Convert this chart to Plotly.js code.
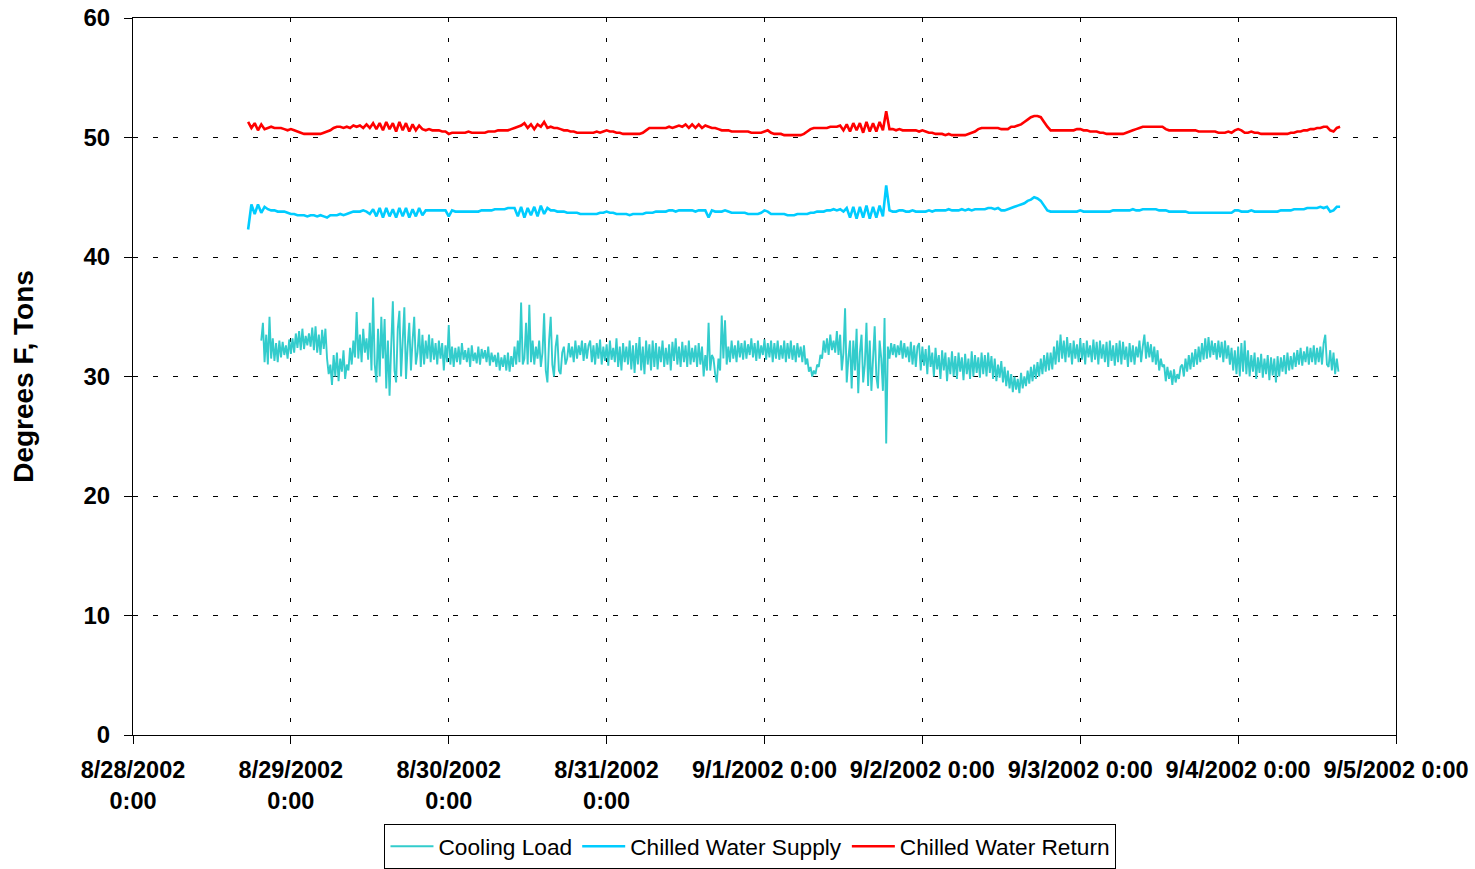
<!DOCTYPE html>
<html>
<head>
<meta charset="utf-8">
<script src="https://cdn.plot.ly/plotly-3.0.1.min.js"></script>
<style>
  html, body { margin: 0; padding: 0; background: #fff; }
  #chart { width: 1475px; height: 869px; }
</style>
</head>
<body>
<div id="chart"></div>
<script>
// ---- Data ----
// Time origin of the axis and sampling of the logged series (hours after origin)
const originDate = "2002-08-28";
const tempStartHour = 17.5;   // Chilled water supply/return: first logged sample
const tempStepHours = 0.5;    // half-hourly samples
const loadStartHour = 19.5;   // Cooling load: first logged sample
const loadStepHours = 0.25;   // quarter-hourly samples

const chilledWaterReturn = [
  51.3, 50.8, 51.2, 50.6, 51.1, 50.7, 50.8, 50.9, 50.8, 50.8, 50.8, 50.7, 50.6, 50.7, 50.6, 50.5, 50.4, 50.3, 50.3, 50.3,
  50.3, 50.3, 50.3, 50.4, 50.5, 50.6, 50.8, 50.9, 50.9, 50.8, 50.9, 50.8, 51.0, 50.9, 51.0, 50.8, 51.1, 50.8, 51.2, 50.7,
  51.2, 50.6, 51.3, 50.7, 51.2, 50.5, 51.3, 50.6, 51.2, 50.5, 51.1, 50.6, 51.0, 50.7, 50.6, 50.7, 50.6, 50.6, 50.6, 50.5,
  50.5, 50.3, 50.4, 50.4, 50.4, 50.4, 50.4, 50.5, 50.4, 50.4, 50.4, 50.4, 50.4, 50.5, 50.5, 50.5, 50.6, 50.6, 50.6, 50.6,
  50.7, 50.8, 50.9, 51.0, 51.2, 50.8, 51.1, 50.7, 51.1, 50.9, 51.3, 50.8, 50.9, 50.8, 50.8, 50.7, 50.6, 50.6, 50.5, 50.5,
  50.4, 50.4, 50.4, 50.4, 50.4, 50.4, 50.5, 50.4, 50.5, 50.6, 50.5, 50.5, 50.4, 50.4, 50.3, 50.3, 50.3, 50.3, 50.3, 50.3,
  50.4, 50.6, 50.8, 50.8, 50.8, 50.8, 50.8, 50.8, 50.9, 50.8, 50.9, 51.0, 50.9, 51.1, 50.8, 51.1, 50.8, 51.1, 50.8, 51.0,
  50.9, 50.8, 50.8, 50.7, 50.6, 50.6, 50.6, 50.5, 50.5, 50.5, 50.5, 50.5, 50.5, 50.4, 50.4, 50.4, 50.4, 50.5, 50.6, 50.4,
  50.3, 50.3, 50.3, 50.2, 50.2, 50.2, 50.2, 50.2, 50.2, 50.3, 50.5, 50.7, 50.8, 50.8, 50.8, 50.8, 50.8, 50.9, 50.9, 50.9,
  51.0, 50.6, 51.1, 50.5, 51.2, 50.6, 51.2, 50.4, 51.3, 50.5, 51.2, 50.5, 51.3, 50.6, 52.2, 50.7, 50.7, 50.6, 50.7, 50.6,
  50.6, 50.6, 50.6, 50.6, 50.5, 50.6, 50.5, 50.4, 50.4, 50.3, 50.3, 50.3, 50.2, 50.3, 50.2, 50.2, 50.2, 50.2, 50.2, 50.3,
  50.4, 50.5, 50.7, 50.8, 50.8, 50.8, 50.8, 50.8, 50.8, 50.7, 50.7, 50.7, 50.9, 50.9, 51.0, 51.1, 51.3, 51.5, 51.7, 51.8,
  51.8, 51.7, 51.3, 50.9, 50.6, 50.6, 50.6, 50.6, 50.6, 50.6, 50.6, 50.6, 50.7, 50.7, 50.6, 50.6, 50.5, 50.5, 50.5, 50.4,
  50.4, 50.3, 50.3, 50.3, 50.3, 50.3, 50.3, 50.4, 50.5, 50.6, 50.7, 50.8, 50.9, 50.9, 50.9, 50.9, 50.9, 50.9, 50.9, 50.7,
  50.6, 50.6, 50.6, 50.6, 50.6, 50.6, 50.6, 50.6, 50.6, 50.5, 50.5, 50.5, 50.5, 50.5, 50.5, 50.4, 50.4, 50.4, 50.5, 50.4,
  50.6, 50.7, 50.6, 50.4, 50.4, 50.5, 50.4, 50.4, 50.3, 50.3, 50.3, 50.3, 50.3, 50.3, 50.3, 50.3, 50.3, 50.4, 50.4, 50.5,
  50.5, 50.6, 50.6, 50.7, 50.7, 50.8, 50.8, 50.9, 50.9, 50.6, 50.5, 50.8, 50.9
];

const chilledWaterSupply = [
  42.3, 44.4, 43.6, 44.4, 43.7, 44.2, 44.0, 43.9, 43.9, 43.8, 43.8, 43.8, 43.7, 43.6, 43.6, 43.5, 43.5, 43.5, 43.4, 43.5,
  43.5, 43.4, 43.5, 43.4, 43.3, 43.5, 43.5, 43.5, 43.6, 43.5, 43.6, 43.7, 43.8, 43.8, 43.8, 43.9, 43.8, 43.6, 44.0, 43.4,
  44.1, 43.3, 44.1, 43.4, 44.0, 43.3, 44.1, 43.4, 44.1, 43.3, 44.0, 43.4, 44.1, 43.5, 43.9, 43.9, 43.9, 43.9, 43.9, 43.9,
  43.9, 43.4, 43.9, 43.8, 43.8, 43.8, 43.8, 43.8, 43.8, 43.8, 43.8, 43.9, 43.9, 43.9, 43.9, 44.0, 44.0, 44.0, 44.0, 44.1,
  44.1, 44.1, 43.4, 44.2, 43.3, 44.1, 43.5, 44.2, 43.4, 44.3, 43.6, 44.1, 43.9, 43.9, 43.8, 43.8, 43.8, 43.7, 43.7, 43.7,
  43.7, 43.6, 43.6, 43.6, 43.6, 43.6, 43.6, 43.7, 43.7, 43.8, 43.7, 43.7, 43.6, 43.6, 43.6, 43.6, 43.5, 43.6, 43.6, 43.6,
  43.6, 43.7, 43.7, 43.7, 43.8, 43.8, 43.8, 43.8, 43.9, 43.9, 43.8, 43.9, 43.9, 43.9, 43.9, 43.9, 43.8, 43.9, 43.9, 43.9,
  43.3, 43.9, 43.8, 43.8, 43.8, 43.9, 43.8, 43.7, 43.7, 43.7, 43.7, 43.7, 43.6, 43.6, 43.6, 43.6, 43.7, 43.9, 43.8, 43.6,
  43.6, 43.6, 43.6, 43.6, 43.5, 43.5, 43.5, 43.6, 43.6, 43.6, 43.6, 43.7, 43.7, 43.8, 43.8, 43.8, 43.9, 43.9, 44.0, 43.9,
  44.0, 43.8, 44.1, 43.3, 44.2, 43.2, 44.2, 43.3, 44.3, 43.2, 44.2, 43.3, 44.3, 43.4, 46.0, 43.9, 43.8, 43.8, 43.9, 43.9,
  43.8, 43.8, 43.9, 43.8, 43.8, 43.8, 43.8, 43.9, 43.8, 43.9, 43.9, 43.9, 43.9, 44.0, 43.9, 43.9, 43.9, 44.0, 43.9, 44.0,
  43.9, 44.0, 44.0, 44.0, 44.0, 44.1, 44.1, 44.0, 44.1, 43.9, 43.9, 44.0, 44.1, 44.2, 44.3, 44.4, 44.5, 44.7, 44.8, 45.0,
  44.9, 44.7, 44.3, 43.9, 43.8, 43.8, 43.8, 43.8, 43.8, 43.8, 43.8, 43.8, 43.8, 43.9, 43.8, 43.8, 43.8, 43.8, 43.8, 43.8,
  43.8, 43.8, 43.8, 43.9, 43.9, 43.9, 43.9, 43.9, 43.9, 44.0, 43.9, 43.9, 44.0, 44.0, 44.0, 44.0, 44.0, 43.9, 43.9, 43.9,
  43.8, 43.8, 43.8, 43.8, 43.8, 43.8, 43.7, 43.7, 43.7, 43.7, 43.7, 43.7, 43.7, 43.7, 43.7, 43.7, 43.7, 43.7, 43.7, 43.7,
  43.9, 43.9, 43.8, 43.8, 43.8, 43.9, 43.8, 43.8, 43.8, 43.8, 43.8, 43.8, 43.8, 43.8, 43.9, 43.9, 43.9, 43.9, 44.0, 44.0,
  44.0, 44.0, 44.1, 44.1, 44.1, 44.1, 44.2, 44.1, 44.2, 43.8, 43.9, 44.2, 44.2
];

const coolingLoad = [
  33.0, 34.5, 31.2, 33.5, 31.0, 35.0, 31.5, 33.2, 31.3, 32.8, 31.2, 33.0, 31.6, 32.9, 31.8, 32.6, 31.5, 33.1, 31.9, 33.2,
  32.0, 33.6, 32.4, 33.8, 32.2, 34.0, 32.3, 33.4, 32.6, 33.6, 32.5, 34.1, 32.2, 34.2, 32.0, 33.5, 31.8, 33.9, 32.3, 34.0,
  31.5, 30.2, 31.0, 29.3, 31.8, 30.0, 32.0, 29.6, 31.5, 30.4, 32.2, 29.8, 31.0, 30.5, 32.4, 31.0, 33.0, 31.6, 35.4, 31.5,
  33.5, 31.2, 34.0, 32.0, 33.2, 31.4, 34.5, 30.5, 36.6, 31.0, 29.5, 34.0, 30.0, 35.0, 31.5, 34.8, 29.0, 33.0, 28.4, 32.5,
  36.3, 30.5, 29.5, 34.0, 35.5, 30.0, 33.0, 35.8, 29.8, 32.5, 34.5, 30.5, 33.0, 35.0, 31.0, 32.0, 34.0, 30.8, 33.5, 31.0,
  33.0, 31.5, 33.5, 31.2, 33.2, 31.4, 32.8, 31.0, 33.0, 31.5, 32.8, 30.5, 32.6, 31.2, 34.3, 31.0, 32.5, 30.8, 32.4, 31.2,
  32.5, 31.0, 32.8, 31.4, 32.2, 31.2, 32.4, 30.8, 32.6, 31.3, 32.0, 31.1, 32.5, 31.0, 32.3, 31.5, 32.2, 31.2, 32.5, 30.9,
  32.0, 31.2, 31.8, 30.8, 32.0, 30.5, 31.6, 30.8, 31.8, 30.5, 32.0, 30.4, 31.7, 30.8, 32.5, 31.0, 33.0, 31.2, 36.2, 31.0,
  31.5, 34.5, 31.0, 36.0, 31.2, 33.0, 31.0, 32.5, 31.5, 33.0, 30.8, 32.0, 35.3, 30.5, 29.5, 33.0, 35.0, 31.0, 30.0, 32.5,
  33.5, 30.5, 30.2, 32.0, 32.5, 31.0, 31.5, 32.8, 31.6, 32.5, 31.2, 33.0, 31.5, 32.6, 31.8, 33.0, 31.3, 32.8, 31.5, 32.6,
  33.0, 31.2, 32.6, 31.0, 32.8, 31.5, 33.1, 31.0, 32.5, 31.3, 32.7, 30.9, 33.0, 31.4, 32.4, 31.2, 33.2, 30.8, 32.5, 30.5,
  32.8, 31.2, 32.5, 31.0, 33.0, 30.6, 32.6, 30.3, 32.8, 31.0, 33.3, 30.5, 32.5, 30.2, 33.0, 31.0, 32.7, 30.5, 33.0, 30.8,
  32.8, 30.6, 32.5, 31.2, 33.0, 30.8, 32.4, 31.0, 32.7, 30.5, 32.9, 31.3, 33.2, 31.0, 32.5, 30.8, 32.9, 31.2, 32.6, 30.8,
  33.0, 31.0, 32.4, 31.2, 32.6, 30.8, 32.8, 31.0, 32.5, 30.0, 31.8, 30.5, 34.5, 30.5, 31.8, 31.5, 30.2, 29.5, 31.5, 30.5,
  35.1, 31.5, 34.7, 31.0, 32.5, 31.2, 33.0, 31.5, 32.6, 31.2, 33.0, 31.6, 32.8, 31.4, 33.0, 31.5, 32.7, 31.8, 33.2, 31.6,
  32.8, 31.3, 33.0, 31.5, 32.6, 31.8, 33.1, 31.4, 32.8, 31.6, 33.0, 31.2, 32.8, 31.5, 33.0, 31.4, 32.6, 31.5, 33.0, 31.2,
  32.8, 31.5, 33.0, 31.4, 32.6, 31.2, 32.8, 31.6, 32.5, 31.2, 32.6, 31.0, 31.5, 30.4, 30.8, 30.0, 30.5, 30.2, 31.0, 30.8,
  31.8, 31.5, 33.0, 32.0, 33.2, 31.8, 33.5, 32.2, 33.0, 32.0, 33.8, 31.8, 33.5, 30.5, 32.0, 35.7, 29.5, 31.5, 33.0, 29.0,
  33.0, 30.5, 34.0, 28.6, 32.0, 33.5, 29.5, 31.0, 34.5, 29.2, 33.0, 28.8, 31.5, 34.2, 30.0, 29.0, 33.0, 31.5, 28.8, 34.9,
  24.4, 32.5, 31.5, 32.8, 31.8, 32.7, 31.6, 32.6, 31.8, 33.0, 31.5, 32.8, 31.6, 32.5, 31.2, 32.9, 31.0, 32.6, 30.8, 32.5,
  32.8, 30.5, 32.5, 30.9, 32.3, 30.2, 32.6, 30.8, 32.0, 30.0, 32.4, 30.6, 31.8, 29.8, 32.2, 30.5, 32.0, 29.6, 31.6, 30.2,
  32.1, 30.0, 31.7, 29.8, 32.0, 30.4, 31.6, 29.7, 31.9, 30.2, 31.5, 29.8, 32.1, 30.0, 31.8, 30.3, 31.6, 29.9, 32.0, 30.2,
  31.8, 30.0, 32.0, 30.3, 31.7, 29.8, 31.5, 29.6, 31.0, 29.9, 31.3, 29.5, 30.8, 29.2, 30.5, 29.0, 30.2, 28.7, 30.0, 28.9,
  29.8, 28.6, 30.3, 29.0, 30.0, 29.2, 30.5, 29.4, 30.8, 29.6, 31.0, 29.8, 31.2, 30.0, 31.5, 30.2, 31.8, 30.4, 32.0, 30.5,
  32.0, 30.6, 32.5, 31.0, 33.0, 31.2, 33.5, 31.5, 33.0, 31.2, 33.3, 31.6, 32.8, 31.0, 33.0, 31.5, 32.7, 31.2, 33.2, 31.4,
  32.8, 31.0, 33.0, 31.6, 32.6, 31.2, 33.1, 31.4, 32.9, 31.0, 33.0, 31.5, 32.7, 31.2, 32.9, 30.8, 33.0, 31.3, 32.6, 30.9,
  32.8, 31.2, 33.0, 31.0, 32.9, 31.4, 32.5, 30.8, 32.8, 31.2, 32.6, 31.0, 32.5, 31.6, 33.0, 31.2, 32.5, 33.5, 31.5, 32.9,
  31.6, 32.7, 31.2, 32.5, 31.0, 32.2, 30.5, 31.5, 30.8, 31.0, 29.6, 30.8, 29.8, 30.5, 29.3, 30.6, 29.5, 30.2, 29.8, 30.8,
  31.0, 30.0, 31.5, 30.4, 31.8, 30.6, 32.0, 30.8, 32.3, 31.0, 32.5, 31.2, 32.8, 31.4, 33.2, 31.5, 33.3, 31.6, 33.0, 31.8,
  32.8, 31.4, 33.0, 31.6, 32.9, 31.2, 33.0, 31.5, 32.6, 31.0, 32.4, 30.5, 32.2, 30.2, 32.5, 30.0, 32.8, 30.4, 33.0, 30.2,
  32.2, 30.0, 31.8, 30.4, 32.0, 29.8, 31.6, 30.3, 31.9, 29.9, 31.5, 30.2, 31.8, 29.7, 31.6, 30.1, 31.5, 29.5, 31.7, 30.0,
  31.6, 30.4, 31.8, 30.2, 32.0, 30.5, 31.7, 30.6, 32.0, 30.8, 32.2, 31.0, 32.4, 30.9, 32.1, 31.2, 32.5, 31.0, 32.4, 31.2,
  32.6, 31.0, 32.4, 31.2, 32.5, 31.0, 32.8, 33.5, 31.0, 30.8, 32.2, 30.5, 32.0, 30.2, 31.5, 30.4
];

const seriesNames = ["Cooling Load", "Chilled Water Supply", "Chilled Water Return"];
const seriesColors = ["#33CCCC", "#00CCFF", "#FF0000"];

const tickDates = ["2002-08-28", "2002-08-29", "2002-08-30", "2002-08-31",
                   "2002-09-01", "2002-09-02", "2002-09-03", "2002-09-04", "2002-09-05"];
const tickLabels = ["8/28/2002<br>0:00", "8/29/2002<br>0:00", "8/30/2002<br>0:00", "8/31/2002<br>0:00",
                    "9/1/2002 0:00", "9/2/2002 0:00", "9/3/2002 0:00", "9/4/2002 0:00", "9/5/2002 0:00"];
const yTickValues = [0, 10, 20, 30, 40, 50, 60];

// ---- Build timestamps ----
const originMs = Date.parse(originDate + "T00:00:00Z");
function stamp(hours) {
  return new Date(originMs + hours * 3600000).toISOString().slice(0, 19).replace("T", " ");
}
function times(startHour, step, n) {
  const out = [];
  for (let i = 0; i < n; i++) out.push(stamp(startHour + i * step));
  return out;
}

const FONT = "Liberation Sans, Arial, sans-serif";

const traces = [
  {
    x: times(loadStartHour, loadStepHours, coolingLoad.length), y: coolingLoad,
    name: seriesNames[0], type: "scatter", mode: "lines",
    line: { color: seriesColors[0], width: 1.9, simplify: false }
  },
  {
    x: times(tempStartHour, tempStepHours, chilledWaterSupply.length), y: chilledWaterSupply,
    name: seriesNames[1], type: "scatter", mode: "lines",
    line: { color: seriesColors[1], width: 2.6, simplify: false }
  },
  {
    x: times(tempStartHour, tempStepHours, chilledWaterReturn.length), y: chilledWaterReturn,
    name: seriesNames[2], type: "scatter", mode: "lines",
    line: { color: seriesColors[2], width: 2.6, simplify: false }
  }
];

const layout = {
  width: 1475, height: 869,
  margin: { l: 133, r: 79, t: 18, b: 134 },
  paper_bgcolor: "#ffffff", plot_bgcolor: "#ffffff",
  font: { family: FONT, color: "#000000" },
  showlegend: true,
  legend: {
    orientation: "h",
    xref: "container", yref: "container",
    x: 0.5088, xanchor: "center",
    y: 0.0259, yanchor: "middle",
    bordercolor: "#000000", borderwidth: 1,
    bgcolor: "#ffffff",
    itemwidth: 43,
    font: { family: FONT, size: 22.7, color: "#000000" },
    traceorder: "normal"
  },
  xaxis: {
    type: "date",
    range: ["2002-08-28 00:00:00", "2002-09-05 00:00:00"],
    tickmode: "array", tickvals: tickDates, ticktext: tickLabels,
    ticks: "outside", ticklen: 8, tickcolor: "#000000", tickwidth: 1,
    ticklabelstandoff: 6,
    tickfont: { family: FONT, size: 23.5, weight: "bold", color: "#000000" },
    showline: true, linecolor: "#000000", linewidth: 1, mirror: true,
    showgrid: true, gridcolor: "#000000", gridwidth: 1, griddash: "4px,16px",
    zeroline: false, fixedrange: true, automargin: false
  },
  yaxis: {
    range: [0, 60],
    tickmode: "array", tickvals: yTickValues,
    ticks: "outside", ticklen: 8, tickcolor: "#000000", tickwidth: 1,
    ticklabelstandoff: 9,
    tickfont: { family: FONT, size: 24, weight: "bold", color: "#000000" },
    showline: true, linecolor: "#000000", linewidth: 1, mirror: true,
    showgrid: true, gridcolor: "#000000", gridwidth: 1, griddash: "5px,15px",
    zeroline: false, fixedrange: true, automargin: false,
    title: { text: "Degrees F, Tons", standoff: 41,
             font: { family: FONT, size: 28, weight: "bold", color: "#000000" } }
  }
};

Plotly.newPlot("chart", traces, layout, { displayModeBar: false, staticPlot: true });
</script>
</body>
</html>
